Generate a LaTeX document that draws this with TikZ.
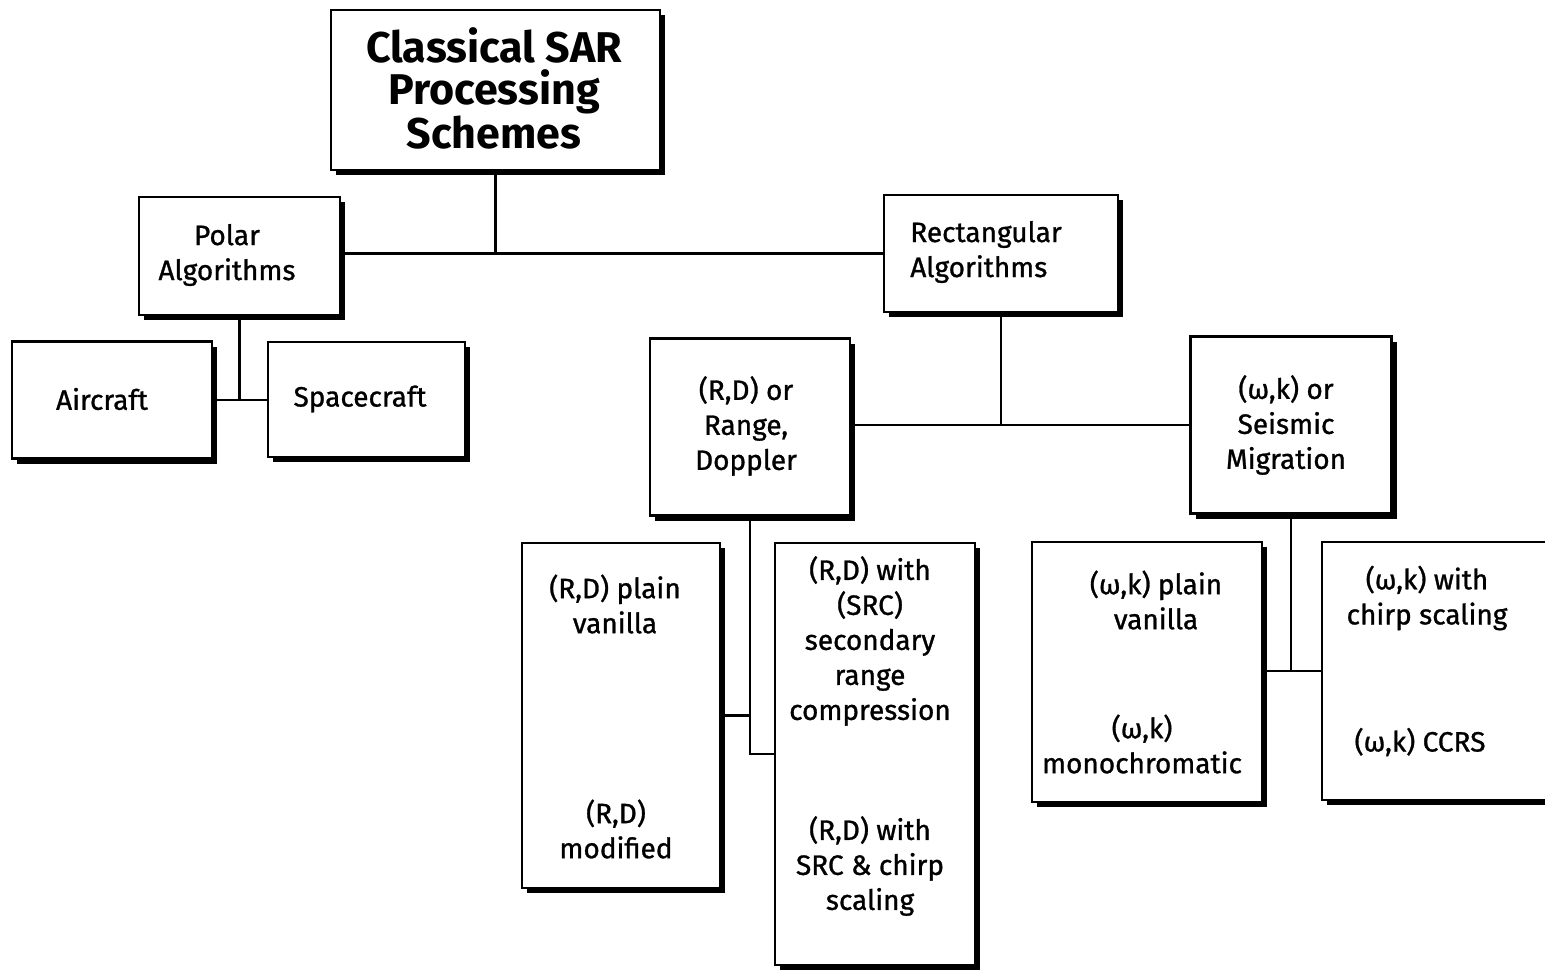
\documentclass[tikz,border=0pt]{standalone}
\usepackage{fontspec}
\setmainfont{Fira Sans}
\newfontfamily\boxfont{Fira Sans}[FakeBold=1]
\usetikzlibrary{shadows}

\tikzset{
  box/.style={draw, line width=1.2pt, fill=white, rectangle, inner sep=0pt,
    drop shadow={shadow xshift=2.5pt, shadow yshift=-2.5pt, fill=black, opacity=1}},
  txt/.style={align=center, inner sep=0pt, font=\boxfont\fontsize{14}{17.5}\selectfont},
}

\begin{document}
\begin{tikzpicture}[x=0.5pt, y=-0.5pt, line width=1.2pt]
\useasboundingbox (0,0) rectangle (1545,969);

\foreach \name/\x/\y/\w/\h in {title/495.5/90/164.5/80, polar/239.5/256/100.5/59,
    aircraft/112/400/100/58.5, spacecraft/366.5/399.5/98.5/57.5,
    rect/1001/253.5/117/58.5, rd/750/427/100/88.5, seis/1291/425/100.5/88.5,
    rdplain/621/715.5/99/172.5, rdwith/875/754/100/211,
    wkplain/1147/672/115/130, wkwith/1441/671/119/129}
  \node[box, minimum width=\w pt, minimum height=\h pt] (\name) at (\x, \y) {};


\node[txt, font=\bfseries\fontsize{21.5}{21}\selectfont] (ttitle) at (494, 88) {Classical SAR\\Processing\\Schemes};
\node[txt] (tpolar) at (227, 255) {Polar\\Algorithms};
\node[txt] (taircraft) at (102, 399) {Aircraft};
\node[txt] (tspacecraft) at (360, 399) {Spacecraft};
\node[txt, align=left] (trect) at (986, 252) {Rectangular\\Algorithms};
\node[txt] (trd) at (746, 426) {(R,D) or\\Range,\\Doppler};
\node[txt] (tseis) at (1286, 425) {(ω,k) or\\Seismic\\Migration};

\node[txt] (tplain) at (615, 604) {(R,D) plain\\vanilla};
\node[txt] (tmod) at (616, 829) {(R,D)\\modified};
\node[txt] (tsrc) at (870, 641) {(R,D) with\\(SRC)\\secondary\\range\\compression};
\node[txt] (tchirp) at (870, 866) {(R,D) with\\SRC \& chirp\\scaling};
\node[txt] (twkplain) at (1156, 600) {(ω,k) plain\\vanilla};
\node[txt] (tmono) at (1142, 744) {(ω,k)\\monochromatic};
\node[txt] (twkchirp) at (1427, 598) {(ω,k) with\\chirp scaling};
\node[txt] (tccrs) at (1420, 742) {(ω,k) CCRS};

\draw (rect.west -| polar.east) -- (rect.west);
\draw (title.south) -- (title.south |- rect.west);
\draw (aircraft.east) -- (aircraft.east -| spacecraft.west);
\draw (polar.south) -- (polar.south |- aircraft.east);
\draw (seis.west -| rd.east) -- (seis.west);
\draw (rect.south) -- (rect.south |- seis.west);
\draw (rd.south) |- (rdwith.west);
\draw (rdplain.east) -- (rdplain.east -| rd.south);
\draw (wkwith.west -| wkplain.east) -- (wkwith.west);
\draw (seis.south) -- (seis.south |- wkwith.west);
\end{tikzpicture}
\end{document}
